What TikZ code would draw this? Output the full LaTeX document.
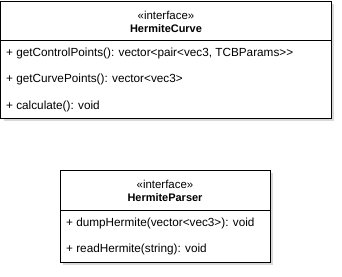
\documentclass[tikz,border=0pt]{standalone}
\usepackage{fontspec}
\setmainfont{Liberation Sans}[Ligatures={NoCommon}]
\usetikzlibrary{shadows}
\begin{document}
\begin{tikzpicture}[x=1bp,y=-1bp,
  umlbox/.style={draw=black,line width=0.9bp,fill=white,
    drop shadow={shadow xshift=3bp,shadow yshift=-3bp,fill=black!25,opacity=0.6}},
  divider/.style={draw=black,line width=0.9bp},
  stereo/.style={font=\fontsize{11.5}{13}\selectfont,anchor=center,inner sep=0pt},
  cname/.style={font=\fontsize{11}{13}\selectfont\bfseries,anchor=center,inner sep=0pt},
  member/.style={font=\fontsize{11.8}{13}\selectfont,anchor=west,inner sep=0pt}]
  \useasboundingbox (0,0) rectangle (342,277);
  % HermiteCurve interface
  \path[umlbox] (0.5,1) rectangle (331,118);
  \draw[divider] (0.5,40.5) -- (331,40.5);
  \node[stereo] (hcst) at (166,15) {«interface»};
  \node[cname] (hcname) at (166,28.5) {HermiteCurve};
  \node[member] (hc1) at (6,53) {+ getControlPoints(): vector<pair<vec3, TCBParams>{}>};
  \node[member] (hc2) at (6,79.5) {+ getCurvePoints(): vector<vec3>};
  \node[member] (hc3) at (6,106) {+ calculate(): void};
  % HermiteParser interface
  \path[umlbox] (60,170) rectangle (270,262);
  \draw[divider] (60,210.5) -- (270,210.5);
  \node[stereo] (hpst) at (165,184) {«interface»};
  \node[cname] (hpname) at (165,197.5) {HermiteParser};
  \node[member] (hp1) at (66,223) {+ dumpHermite(vector<vec3>): void};
  \node[member] (hp2) at (66,249.5) {+ readHermite(string): void};
\end{tikzpicture}
\end{document}
